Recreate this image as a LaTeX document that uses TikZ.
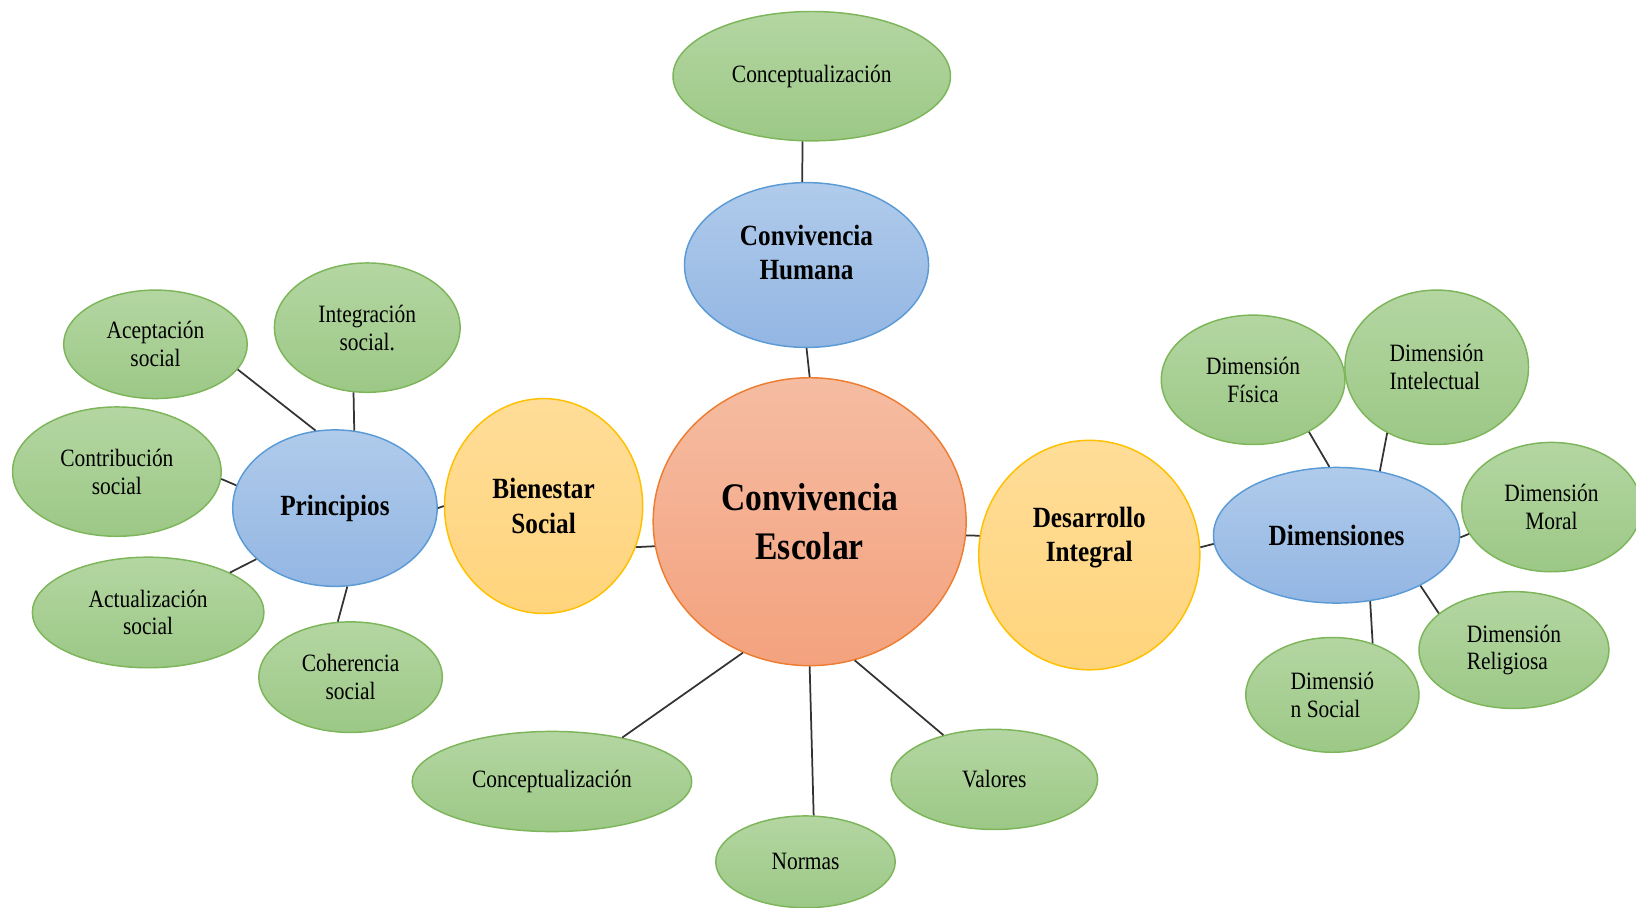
\documentclass[tikz,border=0pt]{standalone}
\usepackage{fontspec}
\setmainfont[FakeStretch=0.86]{Liberation Serif}
\usetikzlibrary{shapes.geometric}
\definecolor{greentop}{HTML}{B4D6A2}
\definecolor{greenbot}{HTML}{9CC886}
\definecolor{greenline}{HTML}{7DB65A}
\definecolor{bluetop}{HTML}{B0CBEB}
\definecolor{bluebot}{HTML}{93B6E3}
\definecolor{blueline}{HTML}{5B9BD5}
\definecolor{orangetop}{HTML}{F5BCA2}
\definecolor{orangebot}{HTML}{F4A27E}
\definecolor{orangeline}{HTML}{ED7D31}
\definecolor{yellowtop}{HTML}{FFDD98}
\definecolor{yellowbot}{HTML}{FFD47C}
\definecolor{yellowline}{HTML}{FFC000}
\tikzset{bubble/.style={ellipse, line width=0.8pt, inner sep=0pt, align=center}}
\tikzset{leaf/.style={bubble, draw=greenline, top color=greentop, bottom color=greenbot, font=\fontsize{13.6}{15.2}\selectfont}}
\tikzset{hubtext/.style={align=center, font=\bfseries\fontsize{16}{19}\selectfont}}
\tikzset{hub/.style={bubble, hubtext, draw=blueline, top color=bluetop, bottom color=bluebot}}
\tikzset{bridge/.style={bubble, hubtext, draw=yellowline, top color=yellowtop, bottom color=yellowbot}}
\tikzset{core/.style={bubble, draw=orangeline, top color=orangetop, bottom color=orangebot, font=\bfseries\fontsize{21.3}{27}\selectfont}}
\tikzset{link/.style={draw=black!80, line width=0.95pt}}

\begin{document}
\begin{tikzpicture}[x=0.02cm, y=-0.02cm]
      \useasboundingbox (0,0) rectangle (1568,870);

      % centre and main branches
      \node[core, minimum width=6cm, minimum height=5.52cm] (CE) at (776,500) {Convivencia\\Escolar};
      \node[hub, minimum width=4.68cm, minimum height=3.16cm,
            label={[hubtext, yshift=6.8pt]center:Convivencia\\Humana}] (CH) at (773,254) {};
      \node[leaf, minimum width=5.32cm, minimum height=2.48cm] (CT) at (778,73) {Conceptualización};
      \node[bridge, minimum width=3.8cm, minimum height=4.12cm] (BS) at (521,485) {Bienestar\\Social};
      \node[bridge, minimum width=4.24cm, minimum height=4.4cm,
            label={[hubtext, yshift=9.6pt]center:Desarrollo\\Integral}] (DI) at (1044,532) {};
      \node[hub, minimum width=3.92cm, minimum height=3cm] (P) at (321,487) {Principios};
      \node[hub, minimum width=4.72cm, minimum height=2.6cm] (D) at (1281,513) {Dimensiones};

      % principios
      \node[leaf, minimum width=3.52cm, minimum height=2.08cm] (PA) at (149,330) {Aceptación\\social};
      \node[leaf, minimum width=3.56cm, minimum height=2.48cm] (PI) at (352,314) {Integración\\social.};
      \node[leaf, minimum width=4cm, minimum height=2.48cm] (PC) at (112,452) {Contribución\\social};
      \node[leaf, minimum width=4.44cm, minimum height=2.12cm] (PU) at (142,587) {Actualización\\social};
      \node[leaf, minimum width=3.52cm, minimum height=2.12cm] (PH) at (336,649) {Coherencia\\social};

      % bottom
      \node[leaf, minimum width=5.36cm, minimum height=1.92cm] (CB) at (529,749) {Conceptualización};
      \node[leaf, minimum width=3.44cm, minimum height=1.76cm] (N) at (772,826) {Normas};
      \node[leaf, minimum width=3.96cm, minimum height=1.92cm] (V) at (953,747) {Valores};

      % dimensiones
      \node[leaf, minimum width=3.52cm, minimum height=2.48cm] (DF) at (1201,364) {Dimensión\\Física};
      \node[leaf, minimum width=3.52cm, minimum height=2.96cm, align=left] (DT) at (1377,352) {Dimensión\\Intelectual};
      \node[leaf, minimum width=3.44cm, minimum height=2.48cm] (DM) at (1487,486) {Dimensión\\Moral};
      \node[leaf, minimum width=3.64cm, minimum height=2.24cm, align=left] (DR) at (1451,623) {Dimensión\\Religiosa};
      \node[leaf, minimum width=3.32cm, minimum height=2.2cm, align=left] (DS) at (1277,666) {Dimensió\\n Social};

      \draw[link] (CT.262) -- (CH.93);
      \draw[link] (CH.south) -- (CE.north);
      \draw[link] (CE.189) -- (BS.336);
      \draw[link] (P.east) -- (BS.west);
      \draw[link] (CE.355) -- (DI.170);
      \draw[link] (DI.4) -- (D.184);
      \draw[link] (CE.243) -- (CB.32);
      \draw[link] (CE.270) -- (N.80);
      \draw[link] (CE.288) -- (V.139);

      \draw[link] (PA.343) -- (P.104);
      \draw[link] (PI.258) -- (P.76);
      \draw[link] (PC.356) -- (P.167);
      \draw[link] (PU.26) -- (P.213);
      \draw[link] (PH.103) -- (P.279);

      \draw[link] (DF.317) -- (D.96);
      \draw[link] (DT.233) -- (D.56);
      \draw[link] (DM.198) -- (D.359);
      \draw[link] (DR.154) -- (D.329);
      \draw[link] (DS.52) -- (D.297);
\end{tikzpicture}
\end{document}
